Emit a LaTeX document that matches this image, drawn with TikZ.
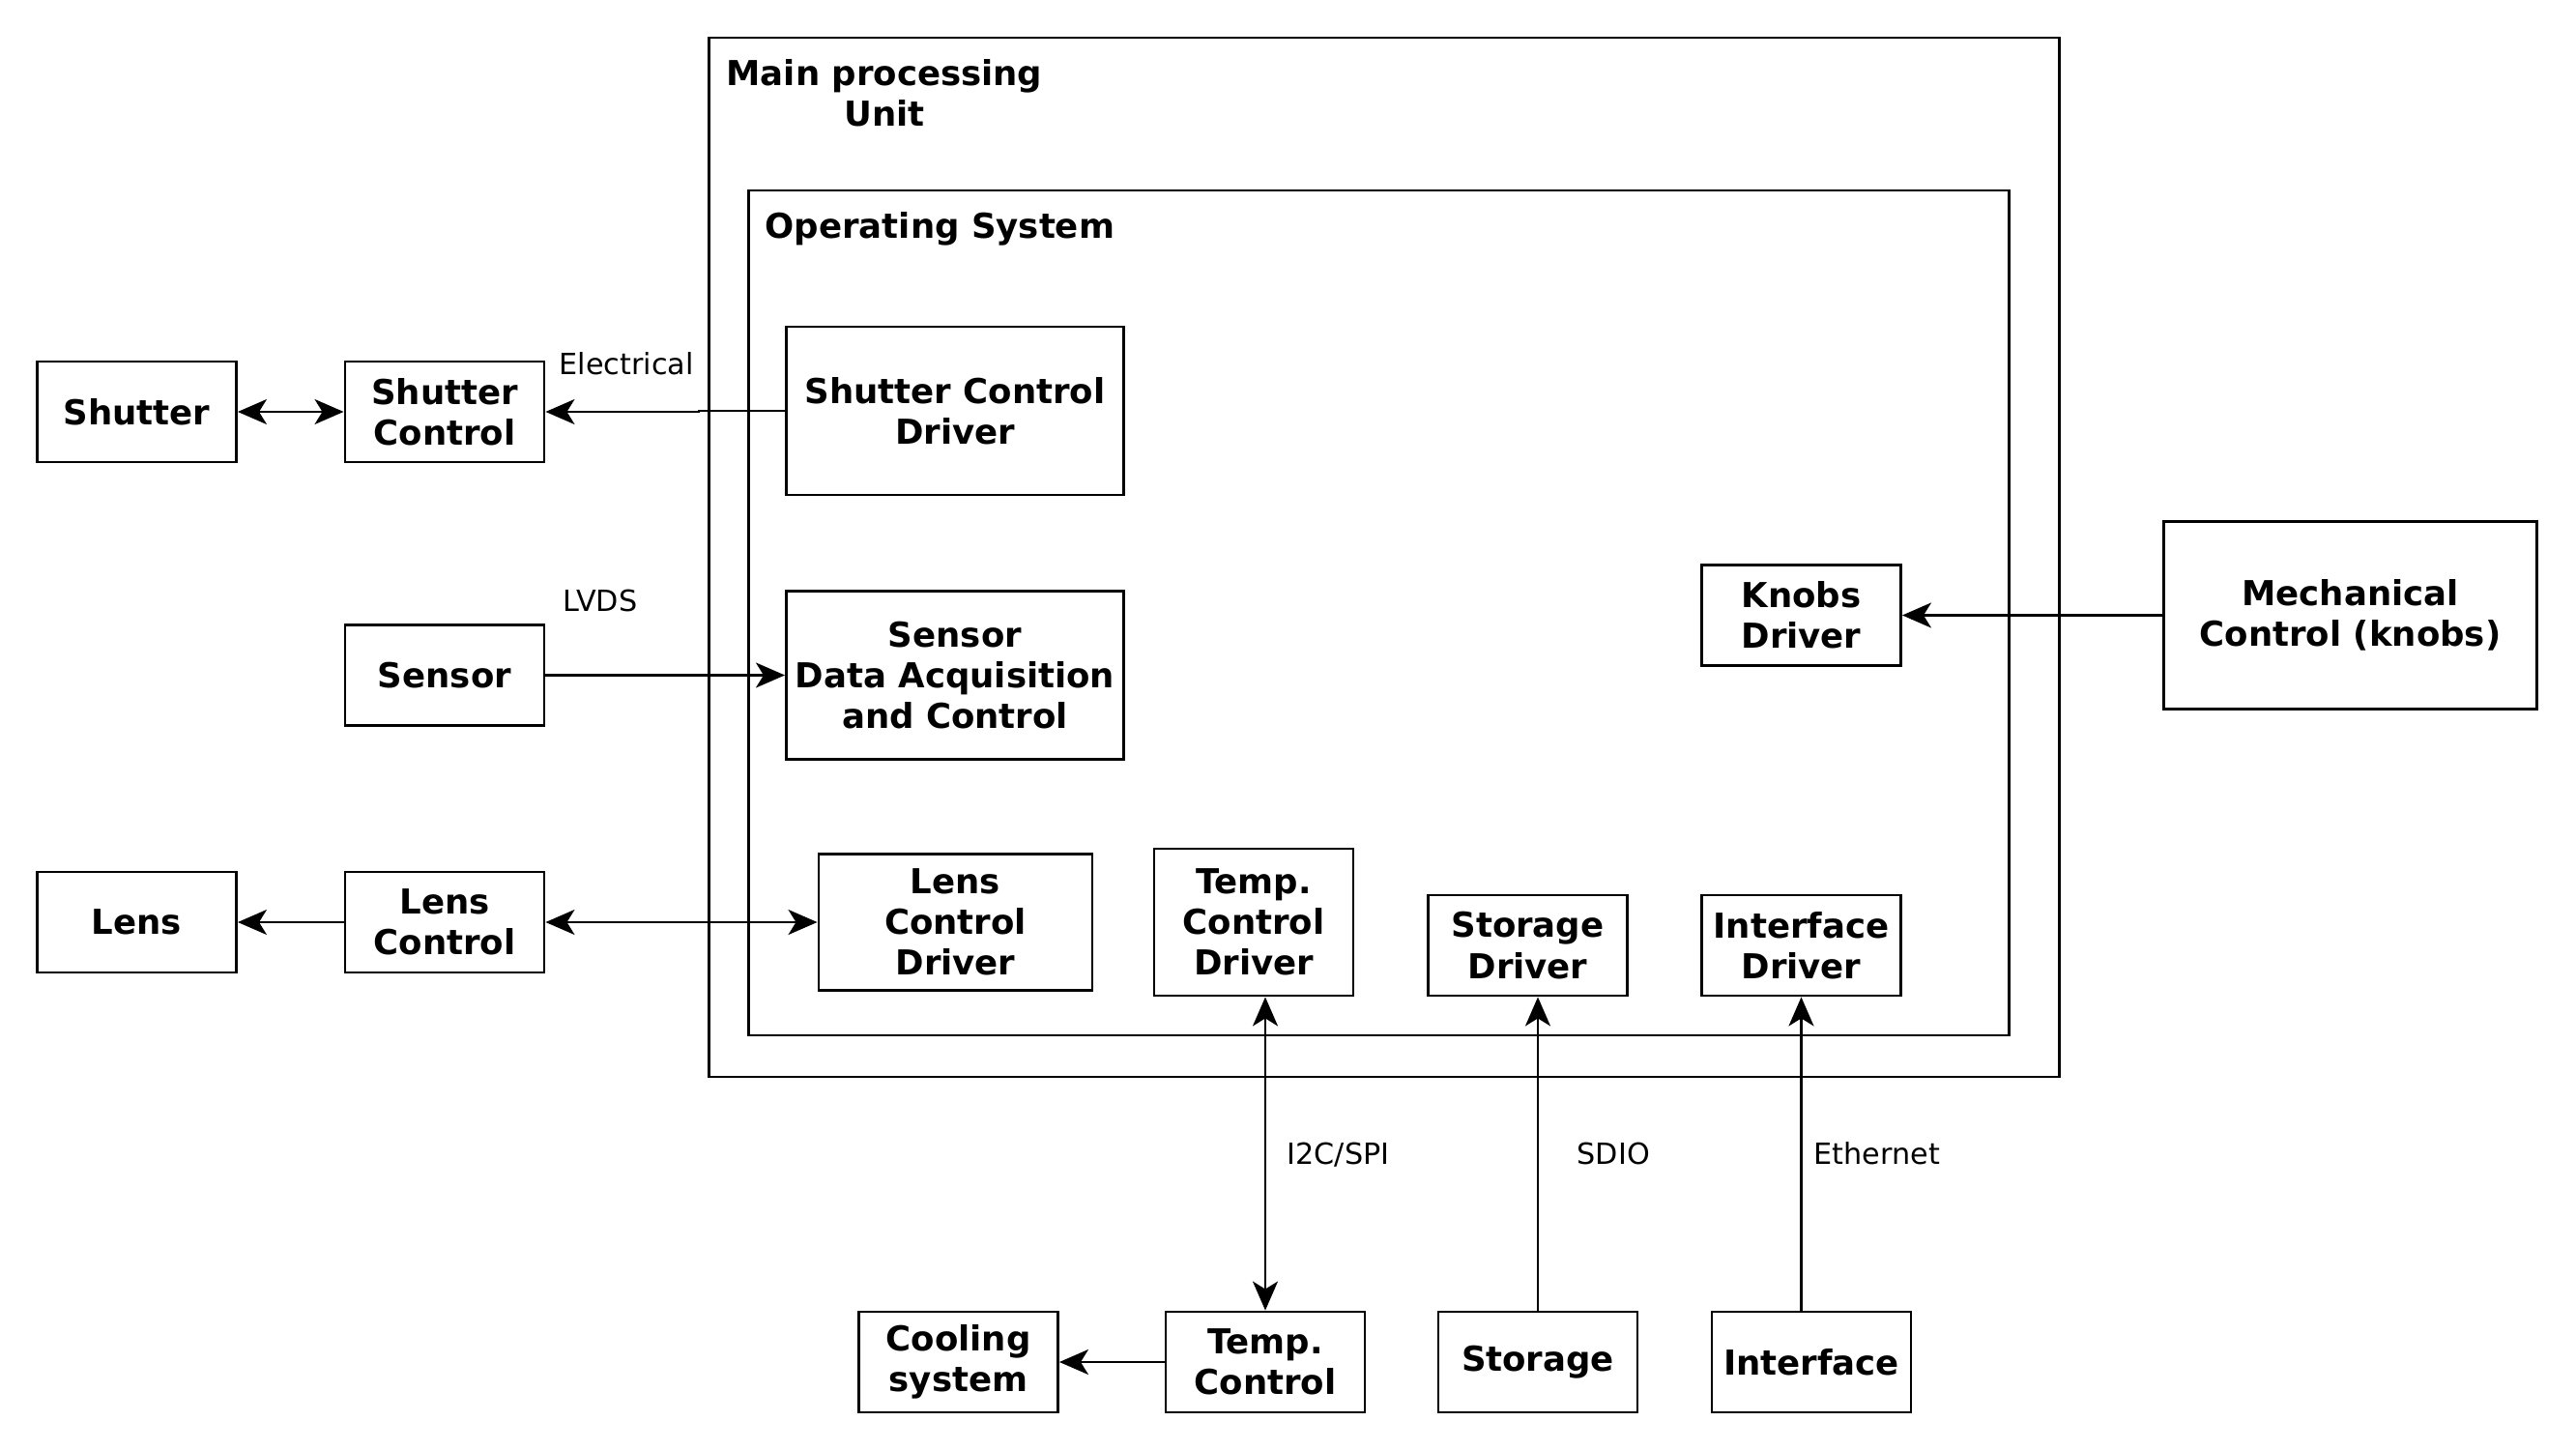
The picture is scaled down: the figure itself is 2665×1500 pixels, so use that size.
\documentclass[tikz,border=0pt]{standalone}
\usepackage{fontspec}
\setmainfont{DejaVu Sans}
\usetikzlibrary{arrows.meta, positioning}
\newcommand{\fuentecaja}{\fontsize{10.1}{12}\selectfont\bfseries}
\newcommand{\fuenteetiq}{\fontsize{8.6}{10}\selectfont}
\tikzset{
  caja/.style={draw, line width=0.8pt, align=center, font=\fuentecaja, inner sep=0pt},
  cajachica/.style={caja, minimum width=2.06cm, minimum height=1.04cm},
  etiq/.style={font=\fuenteetiq, inner sep=0pt, anchor=base west},
  flecha/.style={line width=0.6pt, -{Stealth[length=3mm, width=2.6mm, inset=0.8mm]}},
  dobleflecha/.style={line width=0.6pt, {Stealth[length=3mm, width=2.6mm, inset=0.8mm]}-{Stealth[length=3mm, width=2.6mm, inset=0.8mm]}}
}

\begin{document}
\begin{tikzpicture}[x=0.01cm, y=-0.01cm]
  \useasboundingbox (0,0) rectangle (2665,1500);

  % Contenedores
  \draw[line width=0.7pt] (733.5,39) rectangle (2130.5,1114);
  \draw[line width=0.7pt] (774.5,197) rectangle (2078.5,1071);
  \node[font=\fuentecaja, align=center, inner sep=0pt, anchor=north] (titmain) at (915,61) {Main processing\\Unit};
  \node[font=\fuentecaja, inner sep=0pt, anchor=base west] (titos) at (791,247) {Operating System};

  % Bloques externos (izquierda)
  \node[cajachica] (shutter) at (141.5,426) {Shutter};
  \node[cajachica] (shutterctl) at (460,426) {Shutter\\Control};
  \node[cajachica] (sensor) at (460,698.5) {Sensor};
  \node[cajachica] (lens) at (141.5,954) {Lens};
  \node[cajachica] (lensctl) at (460,954) {Lens\\Control};

  % Drivers
  \node[caja, minimum width=3.49cm, minimum height=1.74cm] (scdrv) at (988,425) {Shutter Control\\Driver};
  \node[caja, minimum width=3.49cm, minimum height=1.74cm] (daq) at (988,698.5) {Sensor\\Data Acquisition\\and Control};
  \node[caja, minimum width=2.83cm, minimum height=1.415cm] (lcdrv) at (988.5,954) {Lens\\Control\\Driver};
  \node[caja, minimum width=2.06cm, minimum height=1.52cm] (tcdrv) at (1297,954) {Temp.\\Control\\Driver};
  \node[cajachica] (stdrv) at (1580.5,978) {Storage\\Driver};
  \node[cajachica] (ifdrv) at (1863.5,978) {Interface\\Driver};
  \node[cajachica] (knobs) at (1863.5,636.5) {Knobs\\Driver};

  % Bloques externos (derecha y abajo)
  \node[caja, minimum width=3.86cm, minimum height=1.945cm] (mech) at (2431.5,636.5) {Mechanical\\Control (knobs)};
  \node[cajachica] (cooling) at (991.5,1409) {Cooling\\system};
  \node[cajachica] (tctl) at (1309,1409) {Temp.\\Control};
  \node[cajachica] (storage) at (1591,1409) {Storage};
  \node[cajachica] (iface) at (1874,1409) {Interface};

  % Conexiones
  \draw[dobleflecha] (shutter) -- (shutterctl);
  \draw[flecha] (scdrv.west) -- ++(-89,0) |- (shutterctl.east);
  \draw[flecha] (sensor) -- (daq);
  \draw[flecha] (lensctl) -- (lens);
  \draw[dobleflecha] (lensctl) -- (lcdrv);
  \draw[dobleflecha] (tctl.north) -- (tctl.north |- tcdrv.south);
  \draw[flecha] (storage.north) -- (storage.north |- stdrv.south);
  \draw[flecha] (ifdrv.south |- iface.north) -- (ifdrv.south);
  \draw[flecha] (tctl) -- (cooling);
  \draw[flecha] (mech) -- (knobs);

  % Etiquetas
  \node[etiq] (lblelec) at (578,388) {Electrical};
  \node[etiq] (lbllvds) at (582,632) {LVDS};
  \node[etiq] (lblspi) at (1331,1204) {I2C/SPI};
  \node[etiq] (lblsdio) at (1631,1204) {SDIO};
  \node[etiq] (lbleth) at (1876,1204) {Ethernet};
\end{tikzpicture}
\end{document}
